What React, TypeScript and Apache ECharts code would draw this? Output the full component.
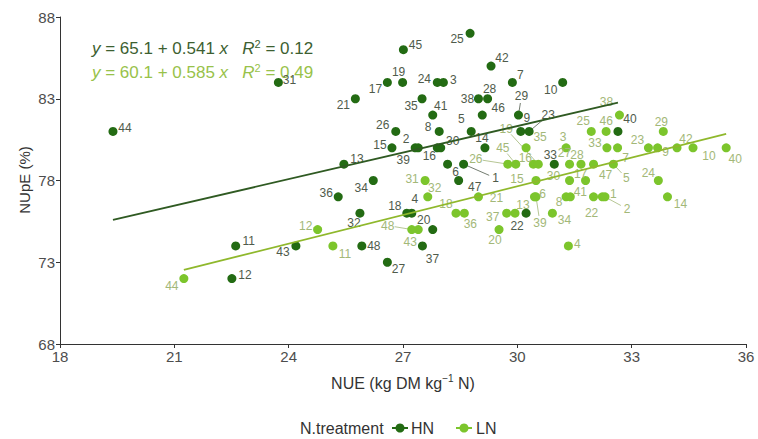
import { useEffect, useRef } from 'react';
import * as echarts from 'echarts';

// NUE (kg DM kg-1 N) and NUpE (%) for genotypes 1..48 under high N (HN)
const hnNue = [28.59, 27.32, 28.06, 27.23, 28.79, 28.17, 29.87, 27.95, 30.09, 31.19, 22.61, 22.51, 25.45, 29.15, 26.71, 27.90, 26.59, 27.10, 26.99, 27.78, 25.75, 30.23, 30.31, 27.90, 28.76, 26.81, 26.59, 29.22, 30.03, 27.99, 23.73, 25.87, 30.97, 26.22, 27.50, 25.30, 27.51, 28.98, 27.40, 32.64, 27.78, 29.31, 24.19, 19.39, 27.01, 29.08, 28.46, 25.92];
const hnNupe = [79, 80, 84, 76, 81, 79, 84, 81, 81, 84, 74, 72, 79, 80, 80, 80, 84, 76, 84, 75, 83, 76, 81, 84, 87, 81, 73, 83, 82, 80, 84, 76, 79, 78, 83, 77, 74, 83, 80, 81, 82, 85, 74, 81, 86, 82, 78, 74];

// Same genotypes under low N (LN)
const lnNue = [32.23, 32.30, 31.28, 31.34, 32.52, 30.45, 32.63, 31.28, 33.68, 34.61, 25.16, 24.76, 29.94, 33.94, 30.49, 30.42, 31.79, 28.39, 30.55, 29.52, 28.98, 32.00, 33.44, 33.70, 31.94, 29.75, 31.37, 31.67, 33.83, 31.37, 27.58, 27.65, 32.35, 30.92, 30.23, 28.61, 29.72, 32.68, 30.49, 35.48, 31.39, 34.19, 27.40, 21.25, 29.96, 32.33, 32.00, 27.23];
const lnNupe = [77, 77, 80, 74, 79, 77, 80, 77, 80, 80, 74, 75, 76, 77, 78, 79, 78, 76, 79, 75, 77, 77, 80, 78, 81, 79, 79, 79, 81, 78, 78, 77, 80, 76, 80, 76, 76, 82, 77, 80, 77, 80, 75, 72, 79, 81, 79, 75];

// Linear fits: intercept, slope, R squared
const hnFit = [65.1, 0.541, 0.12];
const lnFit = [60.1, 0.585, 0.49];

const xTicks = [18, 21, 24, 27, 30, 33, 36];
const yTicks = [68, 73, 78, 83, 88];
const groups = ['HN', 'LN'];

// Label nudges (px) so the id labels sit clear of each other
const hnLabelNudge: [number, number][] = [
  [32, 14], [-9, -9], [10, -2], [3, -14], [-10, -12], [8, 8], [8, -7], [-11, -4], [6, -13], [-12, 8],
  [13, -5], [13, -4], [13, -5], [-3, -10], [-12, -3], [-8, 8], [-12, 7], [-12, -7], [-4, -10], [-9, -10],
  [-12, 6], [-9, 13], [19, -16], [-13, -3], [-13, 6], [-13, -6], [11, 7], [2, -10], [3, -19], [12, -7],
  [11, -2], [-6, 10], [-4, -9], [-12, 7], [-11, 7], [-12, -4], [10, 13], [-11, 0], [-15, 12], [12, -12],
  [8, -9], [11, -8], [-13, 6], [12, -3], [12, -5], [16, -7], [16, 6], [12, 0],
];
const lnLabelNudge: [number, number][] = [
  [11, -3], [22, 12], [-3, -11], [9, -2], [13, 14], [8, -3], [8, 10], [-7, 5], [8, 4], [16, 8],
  [12, 8], [-12, -4], [8, -8], [13, 7], [-19, -2], [-8, -6], [-5, -7], [-10, -9], [-32, -35], [-4, 10],
  [18, 1], [-2, 16], [-11, -8], [-10, -8], [-8, -10], [-32, -5], [-5, -11], [-4, -9], [-2, -9], [-16, -5],
  [-13, -2], [7, -9], [-12, -5], [12, 7], [14, -11], [6, 11], [-14, 4], [-13, -13], [4, 26], [9, 11],
  [10, -5], [9, -9], [-8, 12], [-12, 7], [-13, -16], [0, -10], [12, 11], [-24, -4],
];
const hnLeaders = [1, 23, 29];
const lnLeaders = [2, 5, 19, 26, 39, 45, 48];

const FONT = '"Liberation Sans", Arial, sans-serif';
const HN_DOT = '#236b13';
const LN_DOT = '#7cc52c';
const HN_LINE = '#2f5a22';
const LN_LINE = '#8fb82c';
const HN_TEXT = '#4f5b4b';
const LN_TEXT = '#a3b878';
const AXIS_TEXT = '#4d4d4d';

function scatterSeries(
  name: string, xs: number[], ys: number[], color: string, textColor: string,
  nudge: [number, number][], z: number,
) {
  return {
    type: 'scatter',
    name,
    z,
    symbol: 'circle',
    symbolSize: 9,
    itemStyle: { color, opacity: 1 },
    emphasis: { disabled: true },
    data: xs.map((x, i) => ({ value: [x, ys[i]], name: String(i + 1) })),
    label: {
      show: true,
      position: 'inside',
      formatter: (p: any) => p.name,
      color: textColor,
      fontSize: 12,
      fontFamily: FONT,
    },
    labelLayout: (p: any) => ({ dx: nudge[p.dataIndex][0], dy: nudge[p.dataIndex][1] }),
  };
}

function fitSeries(xs: number[], fit: number[], color: string) {
  const lo = Math.min(...xs);
  const hi = Math.max(...xs);
  return {
    type: 'line',
    z: 5,
    silent: true,
    symbol: 'none',
    lineStyle: { color, width: 1.8 },
    data: [[lo, fit[0] + fit[1] * lo], [hi, fit[0] + fit[1] * hi]],
  };
}

function equation(fit: number[]) {
  return `{i|y} = ${fit[0].toFixed(1)} + ${fit[1].toFixed(3)} {i|x}   {i|R}{s|2} = ${fit[2].toFixed(2)}`;
}

function eqGraphic(fit: number[], y: number, color: string) {
  return {
    type: 'text',
    left: 92,
    top: y,
    style: {
      text: equation(fit),
      fill: color,
      font: `17px ${FONT}`,
      rich: {
        i: { fontStyle: 'italic', fontSize: 17, fontFamily: FONT, fill: color, lineHeight: 20 },
        s: { fontSize: 11, fontFamily: FONT, fill: color, verticalAlign: 'top', lineHeight: 11 },
      },
    },
  };
}

function legendKey(cx: number, cy: number, color: string) {
  return {
    type: 'group',
    children: [
      { type: 'line', shape: { x1: cx - 8, y1: cy, x2: cx + 8, y2: cy }, style: { stroke: color, lineWidth: 2 } },
      { type: 'circle', shape: { cx, cy, r: 4.5 }, style: { fill: color } },
    ],
  };
}

export default function App() {
  const ref = useRef<HTMLDivElement>(null);

  useEffect(() => {
    const chart = echarts.init(ref.current!, null, { renderer: 'svg' });
    const legendY = 428;
    const baseGraphic: any[] = [
      eqGraphic(hnFit, 38, '#3d5f31'),
      eqGraphic(lnFit, 62, '#98c24a'),
      {
        type: 'text',
        x: 24,
        y: 180,
        rotation: Math.PI / 2,
        style: { text: 'NUpE (%)', fill: '#333333', font: `15px ${FONT}`, align: 'center', verticalAlign: 'middle' },
      },
      {
        type: 'text',
        x: 403,
        y: 383,
        style: {
          text: '{a|NUE (kg DM kg}{s|\u22121}{a| N)}',
          align: 'center',
          verticalAlign: 'middle',
          rich: {
            a: { fontSize: 16, fontFamily: FONT, fill: '#333333', lineHeight: 19 },
            s: { fontSize: 10, fontFamily: FONT, fill: '#333333', verticalAlign: 'top', lineHeight: 10 },
          },
        },
      },
      {
        type: 'text',
        x: 300,
        y: legendY,
        style: { text: 'N.treatment', fill: '#333333', font: `16px ${FONT}`, verticalAlign: 'middle' },
      },
      legendKey(400, legendY, HN_DOT),
      {
        type: 'text',
        x: 411,
        y: legendY,
        style: { text: groups[0], fill: '#333333', font: `16px ${FONT}`, verticalAlign: 'middle' },
      },
      legendKey(464, legendY, LN_DOT),
      {
        type: 'text',
        x: 476,
        y: legendY,
        style: { text: groups[1], fill: '#333333', font: `16px ${FONT}`, verticalAlign: 'middle' },
      },
    ];

    chart.setOption({
      animation: false,
      backgroundColor: '#ffffff',
      grid: { left: 60, right: 12, top: 17, bottom: 95 },
      xAxis: {
        type: 'value',
        min: xTicks[0],
        max: xTicks[xTicks.length - 1],
        interval: 3,
        axisLine: { show: true, lineStyle: { color: '#333333', width: 1 } },
        axisTick: { show: true, length: 4, lineStyle: { color: '#333333' } },
        axisLabel: { color: AXIS_TEXT, fontSize: 15, fontFamily: FONT, margin: 5 },
        splitLine: { show: false },
      },
      yAxis: {
        type: 'value',
        min: yTicks[0],
        max: yTicks[yTicks.length - 1],
        axisLine: { show: true, lineStyle: { color: '#333333', width: 1 } },
        axisTick: { show: true, length: 4, customValues: yTicks, lineStyle: { color: '#333333' } },
        axisLabel: { color: AXIS_TEXT, fontSize: 15, fontFamily: FONT, margin: 5, customValues: yTicks },
        splitLine: { show: false },
      },
      series: [
        scatterSeries(groups[1], lnNue, lnNupe, LN_DOT, LN_TEXT, lnLabelNudge, 2),
        scatterSeries(groups[0], hnNue, hnNupe, HN_DOT, HN_TEXT, hnLabelNudge, 3),
        fitSeries(hnNue, hnFit, HN_LINE),
        fitSeries(lnNue, lnFit, LN_LINE),
      ],
      graphic: baseGraphic,
    });

    // Leader segments from a point to its displaced label, placed through the grid's scales
    const leaders: any[] = [];
    const addLeaders = (xs: number[], ys: number[], nudge: [number, number][], ids: number[], color: string) => {
      ids.forEach((id) => {
        const i = id - 1;
        const p = chart.convertToPixel({ gridIndex: 0 }, [xs[i], ys[i]]) as number[];
        const [dx, dy] = nudge[i];
        const len = Math.hypot(dx, dy);
        const k = Math.max(0, len - 7) / len;
        leaders.push({
          type: 'line',
          z: 1,
          silent: true,
          shape: { x1: p[0], y1: p[1], x2: p[0] + dx * k, y2: p[1] + dy * k },
          style: { stroke: color, lineWidth: 0.8 },
        });
      });
    };
    addLeaders(hnNue, hnNupe, hnLabelNudge, hnLeaders, HN_TEXT);
    addLeaders(lnNue, lnNupe, lnLabelNudge, lnLeaders, LN_TEXT);
    chart.setOption({ graphic: [...baseGraphic, ...leaders] });

    return () => chart.dispose();
  }, []);

  return (
    <div
      ref={ref}
      style={{ position: 'fixed', left: 0, top: 0, width: 758, height: 439, background: '#ffffff' }}
    />
  );
}
